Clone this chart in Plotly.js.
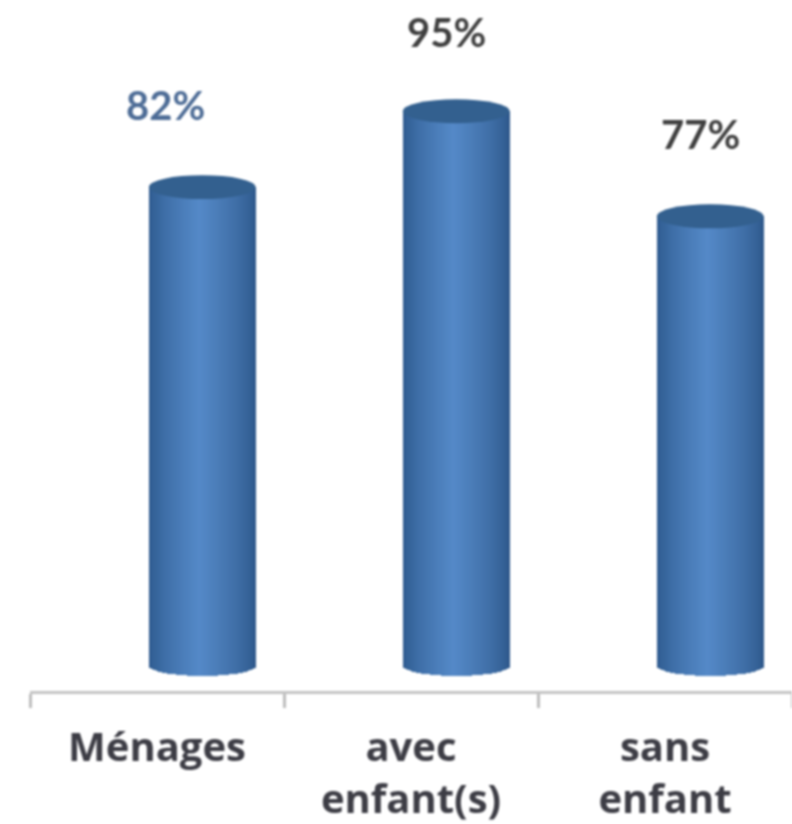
<!DOCTYPE html>
<html><head><meta charset="utf-8">
<script src="https://cdn.plot.ly/plotly-3.0.1.min.js"></script>
<style>html,body{margin:0;padding:0;background:#fff}#chart{width:792px;height:824px;filter:blur(0.9px)}</style>
</head><body><div id="chart"></div>
<script>
const categories = ['Ménages','avec<br>enfant(s)','sans<br>enfant'];
const values = [82,95,77];
const valueLabels = ['82%','95%','77%'];
const labelColors = ['#4d6c96','#3f3f3f','#3f3f3f'];
const labelShift = [8,35,35];
const labelLift = [82,79,82];

const STRIPS = 48, barW = 0.42, barShift = 0.178, ryBottom = 1.7, ryTop = 2.05;
const edgeL=[44,88,140], mid=[84,137,200], edgeR=[44,86,136];
function color(u){ // u in 0..1 across the cylinder
  const peak=0.47; let a,b,f;
  if(u<peak){a=edgeL;b=mid;f=Math.pow(u/peak,0.7);} else {a=edgeR;b=mid;f=Math.pow((1-u)/(1-peak),0.7);}
  return 'rgb('+a.map((c,i)=>Math.round(c+(b[i]-c)*f)).join(',')+')';
}
const traces=[];
for(let s=0;s<STRIPS;s++){
  const u0=s/STRIPS,u1=(s+1)/STRIPS,uc=(u0+u1)/2,t=2*uc-1;
  const base=-ryBottom*Math.sqrt(1-t*t);
  traces.push({type:'bar',x:categories,y:values.map(v=>v-base),base:base,
    width:barW/STRIPS*1.25,offset:barShift-barW/2+u0*barW,
    marker:{color:color(uc),line:{width:0}},hoverinfo:'skip',showlegend:false});
}
const shapes=values.map((v,i)=>({type:'circle',xref:'x',yref:'y',layer:'above',
  x0:i+barShift-barW/2,x1:i+barShift+barW/2,y0:v-ryTop,y1:v+ryTop,
  fillcolor:'#33608f',line:{width:0}}));
const annotations=values.map((v,i)=>({xref:'x',yref:'y',x:i,y:v,text:valueLabels[i],showarrow:false,
  xshift:labelShift[i],yshift:labelLift[i],font:{family:'Lato',size:40,color:labelColors[i],weight:700}}));
const layout={width:792,height:824,margin:{l:30,r:0,t:0,b:133,pad:0},barmode:'overlay',bargap:0,
  paper_bgcolor:'#fff',plot_bgcolor:'#fff',showlegend:false,shapes,annotations,
  xaxis:{type:'category',range:[-0.5,2.5],tickson:'boundaries',ticks:'outside',ticklen:14,tickwidth:3,tickcolor:'#bdbdbd',
    showline:true,linecolor:'#c4c4c4',linewidth:3,showgrid:false,zeroline:false,automargin:false,tickangle:0,ticklabelstandoff:19,
    tickfont:{family:'Open Sans',size:40,color:'#3d3d45',weight:700}},
  yaxis:{visible:false,range:[-4.28,114.04],showgrid:false,zeroline:false,automargin:false}};
Plotly.newPlot('chart',traces,layout,{displayModeBar:false,staticPlot:true});
</script></body></html>
